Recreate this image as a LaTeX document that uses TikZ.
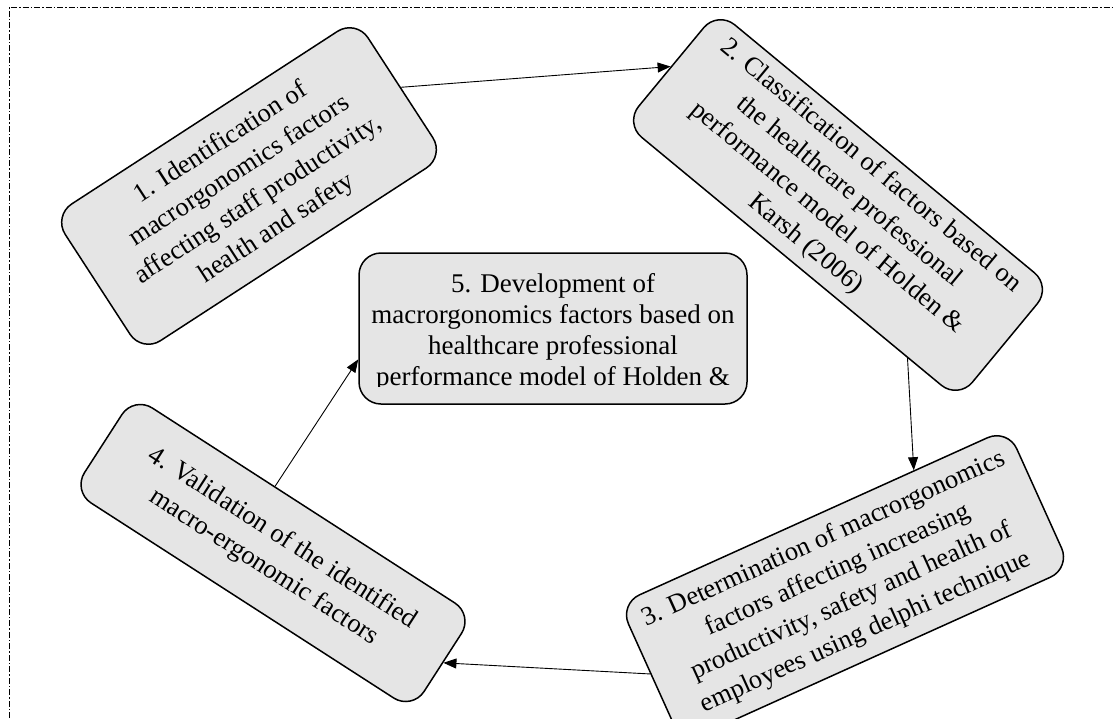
\documentclass[tikz,border=0pt]{standalone}
\usepackage{fontspec}
\setmainfont{Liberation Serif}
\usetikzlibrary{arrows.meta}

\begin{document}
\begin{tikzpicture}[x=1pt, y=-1pt,
    >={Triangle[length=13pt,width=10pt]},
    stage/.style={draw, line width=1.5pt, fill=gray!20, rounded corners=22pt,
      align=center, inner sep=0pt, font=\fontsize{26.5}{34}\selectfont},
    flow/.style={->, line width=0.9pt}]
  \useasboundingbox (0,0) rectangle (1115,718);

  % Dash-dot frame (runs off the right and bottom)
  \draw[line width=0.8pt, dash pattern=on 6pt off 2pt on 1.5pt off 2pt]
    (9,718) -- (9,7) -- (1115,7);

  % The five stages
  \node[stage, rotate=33, minimum width=361pt, minimum height=163pt] (b1) at (249,186)
    {1. Identification of\\ macrorgonomics factors\\ affecting staff productivity,\\ health and safety};
  \node[stage, rotate=-39.6, minimum width=433pt, minimum height=146pt] (b2) at (838,205)
    {2. Classification of factors based on\\ the healthcare professional\\ performance model of Holden \&\\ Karsh (2006)};
  \node[stage, rotate=24.3, minimum width=426pt, minimum height=153pt] (b3) at (845,586)
    {3. Determination of macrorgonomics\\ factors affecting increasing\\ productivity, safety and health of\\ employees using delphi technique};
  \node[stage, rotate=-32.8, minimum width=404pt, minimum height=113pt] (b4) at (273,553)
    {4. Validation of the identified\\ macro-ergonomic factors};
  \node[stage, minimum width=388pt, minimum height=151pt] (b5) at (553,328.5) {};

  % Stage 5 text runs past the bottom of its box and is cut off
  \begin{scope}
    \clip (b5.north west) rectangle ([yshift=18.5pt]b5.south east);
    \node[align=center, inner sep=0pt, anchor=north, font=\fontsize{27}{31}\selectfont] (t5) at (553,273)
      {5. Development of\\ macrorgonomics factors based on\\ healthcare professional\\ performance model of Holden \&};
  \end{scope}

  % Arrows round the cycle
  \draw[flow] (b1.east) -- (b2.west);
  \draw[flow] (b2.-26) -- (b3.35);
  \draw[flow] (b3.west) -- (b4.east);
  \draw[flow] (b4.121) -- (b5.189);
\end{tikzpicture}
\end{document}
